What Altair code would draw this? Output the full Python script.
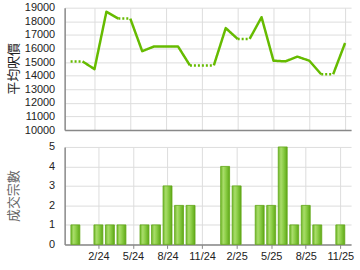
import json
import altair as alt
import pandas as pd

months = ["12/23", "1/24", "2/24", "3/24", "4/24", "5/24", "6/24", "7/24",
          "8/24", "9/24", "10/24", "11/24", "12/24", "1/25", "2/25", "3/25",
          "4/25", "5/25", "6/25", "7/25", "8/25", "9/25", "10/25", "11/25"]
avg_price = [15050, None, 14480, 18700, 18200, None, 15800, 16150,
             16150, 16150, 14750, None, None, 17500, 16700, None,
             18300, 15100, 15050, 15400, 15100, 14100, None, 16400]
deals = [1, 0, 1, 1, 1, 0, 1, 1, 3, 2, 2, 0, 0, 4, 3, 0, 2, 2, 5, 1, 2, 1, 0, 1]
tick_months = ["2/24", "5/24", "8/24", "11/24", "2/25", "5/25", "8/25", "11/25"]
price_ticks = list(range(10000, 19001, 1000))
deal_ticks = [0, 1, 2, 3, 4, 5]

# carry forward missing months (drawn dotted)
filled = []
last = None
for v in avg_price:
    if v is not None:
        last = v
    filled.append(last)

rows = []
run = -1
prev_style = None
for i in range(len(months) - 1):
    style = "dot" if avg_price[i + 1] is None else "solid"
    if style != prev_style:
        run += 1
        rows.append({"run": run, "style": style, "idx": i, "val": filled[i]})
        prev_style = style
    rows.append({"run": run, "style": style, "idx": i + 1, "val": filled[i + 1]})
line_df = pd.DataFrame(rows)

bar_df = pd.DataFrame({"idx": list(range(len(months))), "deals": deals, "month": months})
bar_df = bar_df[bar_df["deals"] > 0]

tick_idx = [months.index(m) for m in tick_months]
label_expr = json.dumps(months) + "[datum.value]"

xscale = alt.Scale(domain=[-0.5, len(months) - 0.5], nice=False, zero=False)
W = 288

top = alt.Chart(line_df).mark_line(
    color="#66bb00", strokeWidth=2.5, strokeJoin="round"
).encode(
    x=alt.X("idx:Q", scale=xscale,
            axis=alt.Axis(values=tick_idx, labels=False, ticks=False, title=None,
                          grid=True, labelPadding=0)),
    y=alt.Y("val:Q", scale=alt.Scale(domain=[10000, 19000], nice=False, zero=False),
            axis=alt.Axis(values=price_ticks, format="d", title="平均呎價", ticks=False,
                          labelPadding=10, titleX=-51, titleY=61,
                          titleBaseline="middle", titleFontSize=13,
                          titleColor="#222", titleFont="Noto Sans CJK TC",
                          titleFontWeight="normal")),
    detail="run:N",
    strokeDash=alt.StrokeDash("style:N",
                              scale=alt.Scale(domain=["solid", "dot"], range=[[1, 0], [2, 2]]),
                              legend=None),
).properties(width=W, height=123)

grad = alt.Gradient(
    gradient="linear", x1=0, x2=1, y1=0, y2=0,
    stops=[alt.GradientStop(offset=0, color="#6fb82a"),
           alt.GradientStop(offset=0.3, color="#a9dc6a"),
           alt.GradientStop(offset=0.55, color="#8fd04a"),
           alt.GradientStop(offset=1, color="#5ea816")],
)

bottom = alt.Chart(bar_df).mark_bar(
    size=9, color=grad, stroke="#62a818", strokeWidth=0.8
).encode(
    x=alt.X("idx:Q", scale=xscale,
            axis=alt.Axis(values=tick_idx, labelExpr=label_expr, title=None,
                          ticks=True, tickSize=4, grid=True, labelPadding=2)),
    y=alt.Y("deals:Q", scale=alt.Scale(domain=[0, 5], nice=False),
            axis=alt.Axis(values=deal_ticks, format="d", title="成交宗數", ticks=False,
                          labelPadding=10, titleX=-51, titleY=49,
                          titleBaseline="middle", titleFontSize=13,
                          titleColor="#666", titleFont="Noto Sans CJK TC",
                          titleFontWeight="normal")),
).properties(width=W, height=98)

chart = alt.vconcat(top, bottom, spacing=6).properties(
    padding={"left": 7, "top": 1, "right": 6, "bottom": 5}
).configure_view(stroke=None).configure_axis(
    domainColor="#888", domainWidth=1.5, gridColor="#dddddd", gridWidth=1,
    tickColor="#888", labelFont="Liberation Sans", labelFontSize=11,
    labelColor="#222",
)

chart.save("out.html", embed_options={"renderer": "svg", "actions": False})
